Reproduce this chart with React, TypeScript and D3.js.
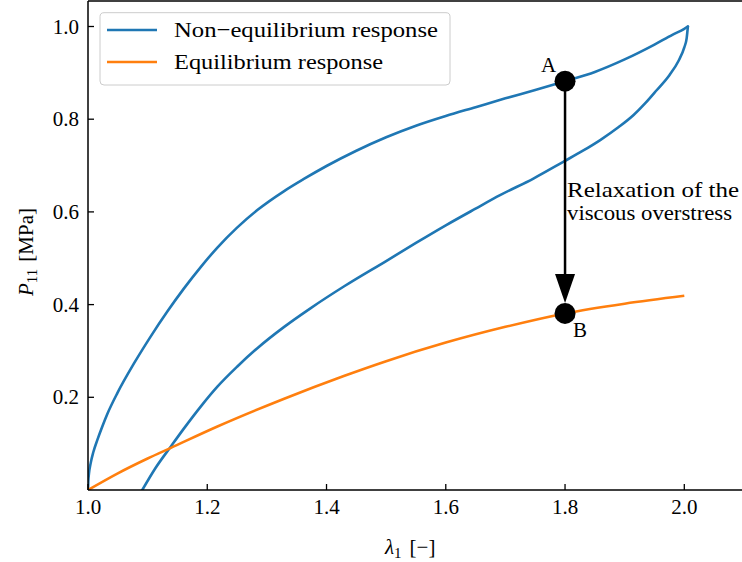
import React from "react";
import * as d3 from "d3";

// Loading branch of the non-equilibrium (viscoelastic) response
const stretchLoad = [1.0, 1.0005, 1.0015, 1.0045, 1.009, 1.0157, 1.024, 1.0324, 1.0492, 1.0771, 1.105, 1.133, 1.161, 1.189, 1.217, 1.25, 1.284, 1.329, 1.362, 1.4, 1.45, 1.5, 1.55, 1.6, 1.65, 1.7, 1.75, 1.8, 1.85, 1.9, 1.95, 1.98, 2.0, 2.006];
const stressLoad = [0.0, 0.019, 0.034, 0.058, 0.082, 0.108, 0.137, 0.164, 0.209, 0.273, 0.331, 0.385, 0.435, 0.481, 0.523, 0.566, 0.604, 0.645, 0.671, 0.699, 0.732, 0.761, 0.786, 0.807, 0.826, 0.845, 0.863, 0.882, 0.902, 0.929, 0.961, 0.982, 0.995, 1.0];

// Unloading branch, from the peak back down to zero stress
const stretchUnload = [2.006, 2.004, 2.0, 1.99, 1.975, 1.954, 1.935, 1.915, 1.89, 1.859, 1.83, 1.797, 1.747, 1.691, 1.65, 1.6, 1.55, 1.5, 1.429, 1.373, 1.329, 1.284, 1.25, 1.217, 1.189, 1.161, 1.139, 1.1135, 1.091];
const stressUnload = [1.0, 0.975, 0.955, 0.925, 0.895, 0.863, 0.835, 0.809, 0.783, 0.755, 0.732, 0.708, 0.672, 0.636, 0.607, 0.571, 0.533, 0.494, 0.439, 0.392, 0.352, 0.306, 0.266, 0.223, 0.18, 0.133, 0.094, 0.048, 0.0];

// Equilibrium (rate-independent) response
const stretchEq = [1.0, 1.05, 1.1, 1.139, 1.217, 1.329, 1.429, 1.5, 1.6, 1.7, 1.8, 1.9, 2.0];
const stressEq = [0.0, 0.036, 0.068, 0.091, 0.137, 0.197, 0.246, 0.278, 0.318, 0.352, 0.381, 0.402, 0.419];

// Relaxation points A (non-equilibrium) and B (equilibrium)
const relaxStretch = 1.8;
const stressA = 0.882;
const stressB = 0.381;

const xTicks = [1.0, 1.2, 1.4, 1.6, 1.8, 2.0];
const yTicks = [0.2, 0.4, 0.6, 0.8, 1.0];

const legendLabels = ["Non\u2212equilibrium response", "Equilibrium response"];
const legendWidths = [264, 209];
const seriesColors = ["#1f77b4", "#ff7f0e"];

const W = 742;
const H = 562;
const FONT = "'Liberation Serif', 'DejaVu Serif', serif";

type Pt = [number, number];

export default function App() {
  const x = d3.scaleLinear().domain([1.0, 2.1]).range([88, 88 + 1.1 * 596.3]);
  const y = d3.scaleLinear().domain([0, 1]).range([490, 26.5]);
  const yTop = 1;
  const left = x(1.0);
  const bottom = y(0);
  const right = x(2.1);

  const curve = d3
    .line<Pt>()
    .x((d) => x(d[0]))
    .y((d) => y(d[1]))
    .curve(d3.curveMonotoneX);

  const loading: Pt[] = stretchLoad.map((l, i) => [l, stressLoad[i]]);
  // unloading drawn in order of increasing stretch so the monotone spline applies
  const unloading: Pt[] = stretchUnload.map((l, i) => [l, stressUnload[i]] as Pt).reverse();
  const eq: Pt[] = stretchEq.map((l, i) => [l, stressEq[i]]);

  const ax = x(relaxStretch);
  const ay = y(stressA);
  const by = y(stressB);
  const r = 10.5;
  const headLen = 29;
  const headHalf = 10;
  const tipY = by - r;

  return (
    <svg
      width={W}
      height={H}
      style={{ position: "absolute", left: 0, top: 0, background: "#fff" }}
      fontFamily={FONT}
    >
      <defs>
        <clipPath id="plotArea">
          <rect x={left} y={yTop} width={right - left} height={bottom - yTop} />
        </clipPath>
      </defs>

      {/* data */}
      <g clipPath="url(#plotArea)" fill="none" strokeWidth={2.6} strokeLinejoin="round" strokeLinecap="round">
        <path d={curve(loading) || ""} stroke={seriesColors[0]} />
        <path d={curve(unloading) || ""} stroke={seriesColors[0]} />
        <path d={curve(eq) || ""} stroke={seriesColors[1]} strokeLinecap="butt" />
      </g>

      {/* relaxation arrow */}
      <line x1={ax} x2={ax} y1={ay} y2={tipY - headLen + 2} stroke="#000" strokeWidth={2.5} />
      <polygon
        points={`${ax - headHalf},${tipY - headLen} ${ax + headHalf},${tipY - headLen} ${ax},${tipY}`}
        fill="#000"
      />
      <circle cx={ax} cy={ay} r={r} fill="#000" />
      <circle cx={ax} cy={by} r={r} fill="#000" />
      <text x={ax - 24} y={ay - 9} fontSize={21}>A</text>
      <text x={ax + 8} y={by + 24} fontSize={21}>B</text>
      <text x={ax + 2} y={197} fontSize={21} textLength={172} lengthAdjust="spacingAndGlyphs">Relaxation of the</text>
      <text x={ax + 2} y={220} fontSize={21} textLength={165} lengthAdjust="spacingAndGlyphs">viscous overstress</text>

      {/* spines */}
      <g stroke="#000" strokeWidth={1.5} fill="none">
        <line x1={left} x2={left} y1={yTop} y2={bottom} />
        <line x1={left} x2={right} y1={bottom} y2={bottom} />
        <line x1={left} x2={right} y1={yTop} y2={yTop} />
        <line x1={right} x2={right} y1={yTop} y2={bottom} />
      </g>

      {/* x ticks */}
      {xTicks.map((t) => (
        <g key={"x" + t}>
          <line x1={x(t)} x2={x(t)} y1={bottom} y2={bottom - 6} stroke="#000" strokeWidth={1.3} />
          <text x={x(t)} y={514} fontSize={21} textAnchor="middle">
            {d3.format(".1f")(t)}
          </text>
        </g>
      ))}

      {/* y ticks */}
      {yTicks.map((t) => (
        <g key={"y" + t}>
          <line x1={left} x2={left + 6} y1={y(t)} y2={y(t)} stroke="#000" strokeWidth={1.3} />
          <text x={79} y={y(t) + 7} fontSize={21} textAnchor="end">
            {d3.format(".1f")(t)}
          </text>
        </g>
      ))}

      {/* axis labels */}
      <text x={385} y={554} fontSize={21}>
        <tspan fontStyle="italic">λ</tspan>
        <tspan fontSize={15} dy={4}>1</tspan>
        <tspan dy={-4} dx={8}>[−]</tspan>
      </text>
      <text transform="translate(33,296) rotate(-90)" fontSize={21}>
        <tspan fontStyle="italic">P</tspan>
        <tspan fontSize={15} dy={4}>11</tspan>
        <tspan dy={-4} dx={7}>[MPa]</tspan>
      </text>

      {/* legend */}
      <g>
        <rect x={100} y={12.7} width={350} height={72.3} rx={4} fill="#fff" fillOpacity={0.8} stroke="#cccccc" strokeWidth={1} />
        {legendLabels.map((lab, i) => (
          <g key={lab}>
            <line x1={107} x2={157} y1={30 + i * 32} y2={30 + i * 32} stroke={seriesColors[i]} strokeWidth={2.6} />
            <text x={174} y={37 + i * 32} fontSize={21.5} textLength={legendWidths[i]} lengthAdjust="spacingAndGlyphs">
              {lab}
            </text>
          </g>
        ))}
      </g>
    </svg>
  );
}
